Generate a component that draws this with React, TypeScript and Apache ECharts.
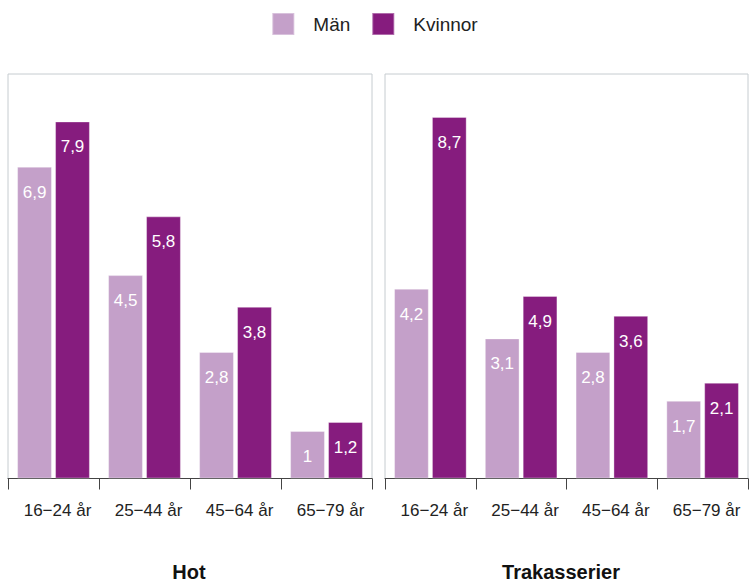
import React, { useEffect, useRef } from "react";
import * as echarts from "echarts";

const categories = ["16−24 år", "25−44 år", "45−64 år", "65−79 år"];
const seriesNames = ["Män", "Kvinnor"];
const panelTitles = ["Hot", "Trakasserier"];

const hotMan = [6.9, 4.5, 2.8, 1.05];
const hotManLabels = ["6,9", "4,5", "2,8", "1"];
const hotKvinnor = [7.9, 5.8, 3.8, 1.25];
const hotKvinnorLabels = ["7,9", "5,8", "3,8", "1,2"];

const trakMan = [4.2, 3.1, 2.8, 1.72];
const trakManLabels = ["4,2", "3,1", "2,8", "1,7"];
// bar heights as drawn in the reference (labels printed separately)
const trakKvinnor = [8.0, 4.04, 3.6, 2.12];
const trakKvinnorLabels = ["8,7", "4,9", "3,6", "2,1"];

const FONT = "'Liberation Sans', Arial, Helvetica, sans-serif";
const COL_MAN = "#c4a0c9";
const COL_KV = "#861c7e";

export default function App() {
  const ref = useRef<HTMLDivElement>(null);
  useEffect(() => {
    if (!ref.current) return;
    const chart = echarts.init(ref.current, undefined, { renderer: "svg" });
    const grids = [
      { left: 8, width: 364, top: 74, height: 404.5 },
      { left: 385, width: 363, top: 74, height: 404.5 },
    ];
    const mkSeries = (
      name: string,
      data: number[],
      labels: string[],
      idx: number,
      color: string
    ) => ({
      type: "bar",
      name,
      data,
      xAxisIndex: idx,
      yAxisIndex: idx,
      barCategoryGap: "20%",
      barGap: "9%",
      itemStyle: { color, borderColor: "rgba(255,255,255,0.35)", borderWidth: 1 },
      label: {
        show: true,
        position: "insideTop",
        distance: 17,
        color: "#ffffff",
        fontSize: 17,
        fontFamily: FONT,
        formatter: (p: any) => labels[p.dataIndex],
      },
    });
    chart.setOption({
      animation: false,
      textStyle: { fontFamily: FONT },
      legend: {
        data: seriesNames,
        top: 7,
        left: "center",
        icon: "rect",
        itemWidth: 22,
        itemHeight: 22,
        itemGap: 21,
        textStyle: { fontSize: 19, color: "#222", fontFamily: FONT, padding: [0, 0, 0, 14] },
      },
      grid: grids.map((g) => ({
        ...g,
        show: true,
        borderColor: "#c6ccd0",
        borderWidth: 1,
        backgroundColor: "transparent",
      })),
      xAxis: [0, 1].map((i) => ({
        type: "category",
        gridIndex: i,
        data: categories,
        axisLine: { lineStyle: { color: "#444", width: 1 } },
        axisTick: { show: true, interval: 0, length: 11, lineStyle: { color: "#444" } },
        axisLabel: {
          interval: 0,
          hideOverlap: false,
          margin: 23,
          fontSize: 17,
          color: "#222",
          fontFamily: FONT,
          padding: [0, 0, 0, 8],
        },
      })),
      yAxis: [0, 1].map((i) => ({
        type: "value",
        gridIndex: i,
        min: 0,
        max: 8.95,
        show: false,
        splitLine: { show: false },
      })),
      series: [
        mkSeries(seriesNames[0], hotMan, hotManLabels, 0, COL_MAN),
        mkSeries(seriesNames[1], hotKvinnor, hotKvinnorLabels, 0, COL_KV),
        mkSeries(seriesNames[0], trakMan, trakManLabels, 1, COL_MAN),
        mkSeries(seriesNames[1], trakKvinnor, trakKvinnorLabels, 1, COL_KV),
      ],
      graphic: panelTitles.map((t, i) => ({
        type: "text",
        x: i === 0 ? 189 : 561,
        y: 572,
        style: {
          text: t,
          align: "center",
          verticalAlign: "middle",
          textAlign: "center",
          textVerticalAlign: "middle",
          font: `bold 20px ${FONT}`,
          fill: "#111",
        },
      })),
    });
    return () => chart.dispose();
  }, []);
  return (
    <div
      ref={ref}
      style={{ position: "absolute", left: 0, top: 0, width: 749, height: 582 }}
    />
  );
}
